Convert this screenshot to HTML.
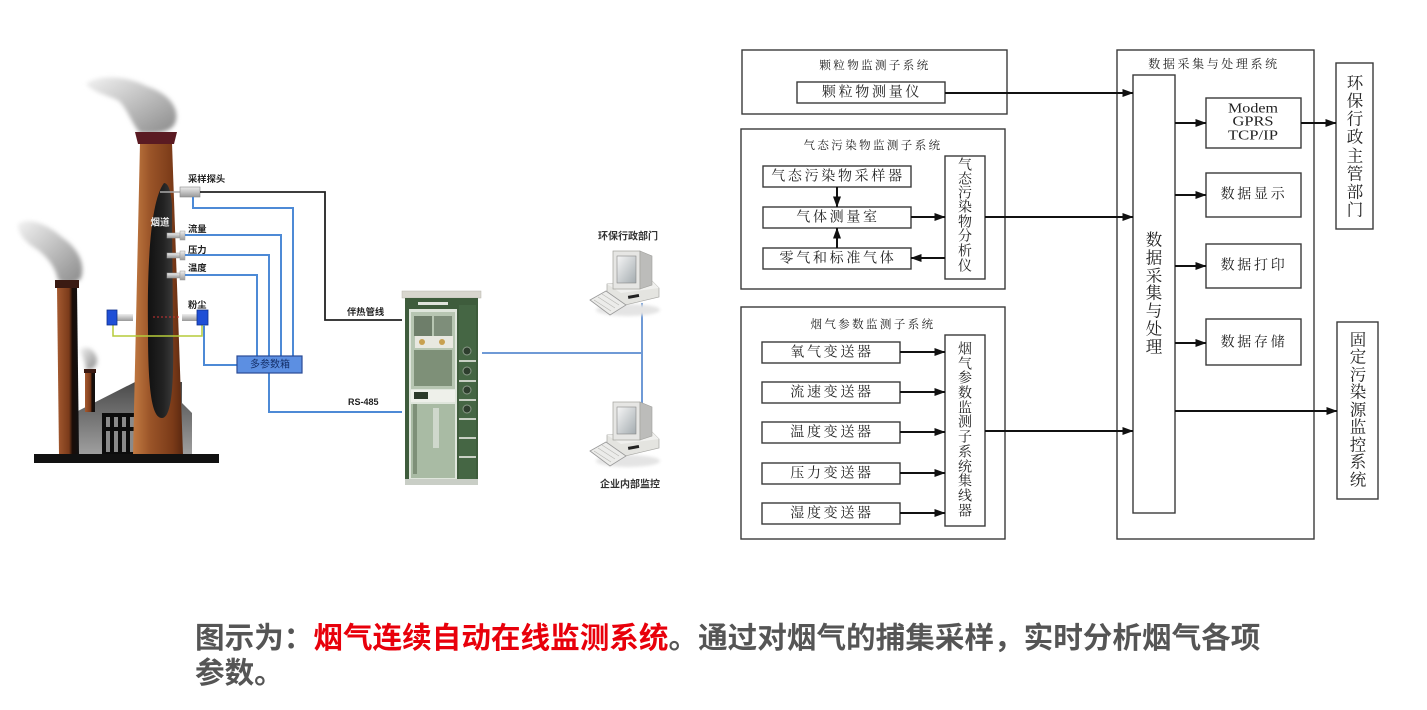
<!DOCTYPE html>
<html><head><meta charset="utf-8">
<style>
html,body{margin:0;padding:0;background:#fff;}
body{width:1427px;height:710px;overflow:hidden;position:relative;}
svg{position:absolute;left:0;top:0;}
.d{font-family:"Liberation Serif","Noto Serif CJK SC",serif;fill:#222;}
.s{font-family:"Liberation Sans","Noto Sans CJK SC",sans-serif;}
</style></head>
<body>
<svg width="1427" height="710" viewBox="0 0 1427 710" xmlns="http://www.w3.org/2000/svg">
<defs>
<marker id="ah" markerWidth="11" markerHeight="8" refX="10.5" refY="4" orient="auto" markerUnits="userSpaceOnUse">
<path d="M0,0 L11,4 L0,8 z" fill="#111"/>
</marker>
<filter id="bl" x="-50%" y="-50%" width="200%" height="200%"><feGaussianBlur stdDeviation="2.2"/></filter>
<filter id="bl2" x="-50%" y="-50%" width="200%" height="200%"><feGaussianBlur stdDeviation="1.5"/></filter>
<linearGradient id="sm" x1="0" x2="1" y1="0" y2="1">
<stop offset="0" stop-color="#f2f2f2"/><stop offset="0.45" stop-color="#c4c4c4"/><stop offset="1" stop-color="#8a8a8a"/>
</linearGradient>
<linearGradient id="ch" x1="0" x2="1" y1="0" y2="0">
<stop offset="0" stop-color="#c27a42"/><stop offset="0.35" stop-color="#9a5428"/><stop offset="0.8" stop-color="#7a3a18"/><stop offset="1" stop-color="#5a2810"/>
</linearGradient>
<linearGradient id="ch2" x1="0" x2="1" y1="0" y2="0">
<stop offset="0" stop-color="#a55a30"/><stop offset="0.55" stop-color="#7a3a1a"/><stop offset="0.7" stop-color="#1a0d08"/><stop offset="1" stop-color="#111"/>
</linearGradient>
<linearGradient id="fl" x1="0" x2="1" y1="0" y2="0">
<stop offset="0" stop-color="#111"/><stop offset="0.6" stop-color="#222"/><stop offset="1" stop-color="#3a3a3a"/>
</linearGradient>
<linearGradient id="bd" x1="0" x2="0" y1="0" y2="1">
<stop offset="0" stop-color="#4a4a4a"/><stop offset="1" stop-color="#a0a0a0"/>
</linearGradient>
<linearGradient id="pr" x1="0" x2="0" y1="0" y2="1">
<stop offset="0" stop-color="#eee"/><stop offset="1" stop-color="#999"/>
</linearGradient>
<linearGradient id="scr" x1="0" x2="1" y1="0" y2="1">
<stop offset="0" stop-color="#f6f6f6"/><stop offset="1" stop-color="#a4acb0"/>
</linearGradient>
</defs>

<!-- ================= LEFT ILLUSTRATION ================= -->
<!-- smoke -->
<g filter="url(#bl)">
<path d="M86,84 C98,74 128,76 146,86 C166,92 179,106 176,120 C174,131 160,135 140,133 C132,124 128,110 119,101 C108,95 94,93 86,84 Z" fill="url(#sm)"/>
<path d="M18,224 C30,216 50,226 63,238 C76,247 86,262 81,278 C76,285 63,285 58,280 C56,268 48,258 38,250 C28,244 18,236 18,224 Z" fill="url(#sm)"/>
<path d="M80,350 C86,344 96,350 97,360 C97,368 90,371 86,370 C86,362 82,356 80,350 Z" fill="url(#sm)"/>
</g>

<!-- building -->
<polygon points="74,455 74,413 135,382 182,382 182,403 192,413 192,455" fill="url(#bd)"/>
<rect x="102" y="413" width="40" height="42" fill="#0c0c0c"/>
<g fill="#8a8a8a">
<rect x="106" y="417" width="4" height="10"/><rect x="114" y="417" width="4" height="10"/><rect x="122" y="417" width="4" height="10"/><rect x="130" y="417" width="4" height="10"/>
<rect x="106" y="431" width="4" height="21"/><rect x="114" y="431" width="4" height="21"/><rect x="122" y="431" width="4" height="21"/><rect x="130" y="431" width="4" height="21"/>
</g>

<!-- small chimneys -->
<polygon points="57,287 77,287 79,455 59,455" fill="url(#ch2)"/>
<rect x="55" y="280" width="24" height="8" fill="#3a1a12"/>
<rect x="85" y="372" width="10" height="40" fill="url(#ch2)"/>
<rect x="84" y="369" width="12" height="4" fill="#3a1a12"/>

<!-- big chimney -->
<polygon points="140,143 172,143 183,455 133,455" fill="url(#ch)"/>
<polygon points="135,132 177,132 174,144 138,144" fill="#5a1a22"/>
<path d="M164,183 C151,200 147,260 148,330 C148,392 152,418 162,418 C172,418 174,382 173,330 L172,205 C171,190 168,183 164,183 Z" fill="url(#fl)"/>
<text x="160" y="223" class="s" font-size="9.5" font-weight="bold" fill="#eee" text-anchor="middle" dominant-baseline="central">烟道</text>

<!-- base -->
<rect x="34" y="454" width="185" height="9" fill="#111"/>

<!-- probes -->
<line x1="160" y1="192" x2="182" y2="192" stroke="#aaa" stroke-width="1.5"/>
<rect x="180" y="187" width="20" height="10" fill="url(#pr)" stroke="#888" stroke-width="0.6"/>
<g fill="url(#pr)" stroke="#999" stroke-width="0.5">
<rect x="167" y="233" width="13" height="5"/><rect x="180" y="231" width="5" height="9"/>
<rect x="167" y="253" width="13" height="5"/><rect x="180" y="251" width="5" height="9"/>
<rect x="167" y="273" width="13" height="5"/><rect x="180" y="271" width="5" height="9"/>
</g>

<!-- dust sensor -->
<line x1="153" y1="317" x2="181" y2="317" stroke="#c33" stroke-width="1" stroke-dasharray="2,2"/>
<g fill="url(#pr)"><rect x="117" y="314" width="16" height="7"/><rect x="182" y="314" width="15" height="7"/></g>
<polyline points="113,325 113,336 202,336 202,325" fill="none" stroke="#b5cc3a" stroke-width="1.5"/>
<rect x="107" y="310" width="10" height="15" fill="#1f4fd6" stroke="#0d2f8a" stroke-width="0.8"/>
<rect x="197" y="310" width="11" height="15" fill="#1f4fd6" stroke="#0d2f8a" stroke-width="0.8"/>

<!-- cables -->
<polyline points="200,192 325,192 325,320 402,320" fill="none" stroke="#222" stroke-width="1.8"/>
<g fill="none" stroke="#4d8ad6" stroke-width="2">
<polyline points="193,197 193,208 293,208 293,357"/>
<polyline points="185,235 281,235 281,357"/>
<polyline points="185,255 269,255 269,357"/>
<polyline points="185,275 257,275 257,357"/>
<polyline points="204,325 204,365 237,365"/>
<polyline points="269,373 269,412 402,412"/>
</g>
<rect x="237" y="356" width="65" height="17" fill="#5c8fe2" stroke="#2a4a95" stroke-width="1.2"/>
<text x="270" y="365" class="s" font-size="10" fill="#15306a" text-anchor="middle" dominant-baseline="central">多参数箱</text>

<g class="s" font-size="9.3" font-weight="bold" fill="#222" dominant-baseline="central">
<text x="188" y="179">采样探头</text>
<text x="188" y="229">流量</text>
<text x="188" y="250">压力</text>
<text x="188" y="268">温度</text>
<text x="188" y="305">粉尘</text>
<text x="347" y="312">伴热管线</text>
<text x="348" y="402" font-size="9">RS-485</text>
</g>

<!-- cabinet -->
<rect x="402" y="291" width="79" height="7" fill="#d8d6ce" stroke="#b8b6ae" stroke-width="0.5"/>
<rect x="405" y="298" width="73" height="186" fill="#3e5c3c"/>
<rect x="418" y="302" width="30" height="3" fill="#dfe4dc"/>
<rect x="409" y="309" width="48" height="172" fill="#dfe6dc"/>
<rect x="411" y="312" width="44" height="77" fill="#b7c6b2"/>
<rect x="414" y="316" width="18" height="20" fill="#6e7e6a"/>
<rect x="434" y="316" width="18" height="20" fill="#7e8e7a"/>
<rect x="415" y="336" width="38" height="12" fill="#e8e8e0"/>
<circle cx="422" cy="342" r="3" fill="#c8a050"/><circle cx="442" cy="342" r="3" fill="#c8a050"/>
<rect x="414" y="350" width="38" height="36" fill="#7e9078"/>
<rect x="411" y="390" width="44" height="12" fill="#eef0ea"/>
<rect x="414" y="392" width="14" height="7" fill="#2b3a2a"/>
<rect x="411" y="404" width="44" height="74" fill="#a9bba4"/>
<rect x="413" y="404" width="4" height="70" fill="#7e9078"/>
<rect x="433" y="408" width="6" height="40" fill="#cfd8cc"/>
<rect x="459" y="305" width="17" height="176" fill="#456644"/>
<g fill="#c8d0c4"><rect x="459" y="360" width="17" height="2"/><rect x="459" y="380" width="17" height="2"/><rect x="459" y="399" width="17" height="2"/><rect x="459" y="418" width="17" height="2"/><rect x="459" y="437" width="17" height="2"/><rect x="459" y="456" width="17" height="2"/></g>
<g fill="#2e3e2e" stroke="#8a9a88" stroke-width="1"><circle cx="467" cy="351" r="4"/><circle cx="467" cy="371" r="4"/><circle cx="467" cy="390" r="4"/><circle cx="467" cy="409" r="4"/></g>
<rect x="405" y="479" width="73" height="6" fill="#c9cec6"/>

<!-- network -->
<g stroke="#6f9ad6" stroke-width="2" fill="none">
<line x1="482" y1="353" x2="642" y2="353"/>
<line x1="642" y1="303" x2="642" y2="408"/>
</g>

<!-- computers -->
<g id="pc">
<ellipse cx="628" cy="310" rx="32" ry="6" fill="#e4e4e4" filter="url(#bl2)"/>
<polygon points="607,284 650,279 659,288 659,297 621,306 607,296" fill="#e4e4e0" stroke="#a8a8a4" stroke-width="0.7"/>
<polygon points="607,284 650,279 659,288 621,293" fill="#f0f0ee"/>
<rect x="628" y="295" width="11" height="3" fill="#222" transform="rotate(-10 633 296)"/>
<rect x="613" y="251" width="27" height="38" fill="#e6e6e4" stroke="#a0a09c" stroke-width="0.7"/>
<polygon points="640,251 652,256 652,285 640,289" fill="#bcbcba" stroke="#a0a09c" stroke-width="0.6"/>
<rect x="617" y="256" width="19" height="27" fill="url(#scr)" stroke="#888" stroke-width="0.6"/>
<polygon points="590,300 606,291 626,305 610,315" fill="#ececea" stroke="#999" stroke-width="0.8"/>
<g stroke="#b8b8b4" stroke-width="0.6"><line x1="594" y1="300" x2="611" y2="311"/><line x1="598" y1="297" x2="615" y2="308"/><line x1="602" y1="294" x2="619" y2="305"/></g>
</g>
<use href="#pc" transform="translate(0,151)"/>
<g class="s" font-size="10" font-weight="bold" fill="#333" text-anchor="middle" dominant-baseline="central">
<text x="628" y="237">环保行政部门</text>
<text x="630" y="485">企业内部监控</text>
</g>

<!-- ================= RIGHT DIAGRAM ================= -->
<g fill="none" stroke="#3a3a3a" stroke-width="1.4">
<rect x="742" y="50" width="265" height="64"/>
<rect x="797" y="82" width="148" height="21"/>
<rect x="741" y="129" width="264" height="160"/>
<rect x="763" y="166" width="148" height="21"/>
<rect x="763" y="207" width="148" height="21"/>
<rect x="763" y="248" width="148" height="21"/>
<rect x="945" y="156" width="40" height="123"/>
<rect x="741" y="307" width="264" height="232"/>
<rect x="762" y="342" width="138" height="21"/>
<rect x="762" y="382" width="138" height="21"/>
<rect x="762" y="422" width="138" height="21"/>
<rect x="762" y="463" width="138" height="21"/>
<rect x="762" y="503" width="138" height="21"/>
<rect x="945" y="335" width="40" height="191"/>
<rect x="1117" y="50" width="197" height="489"/>
<rect x="1133" y="75" width="42" height="438"/>
<rect x="1206" y="98" width="95" height="50"/>
<rect x="1206" y="173" width="95" height="44"/>
<rect x="1206" y="244" width="95" height="44"/>
<rect x="1206" y="319" width="95" height="46"/>
<rect x="1336" y="63" width="37" height="166"/>
<rect x="1337" y="322" width="41" height="177"/>
</g>

<g stroke="#111" stroke-width="2" fill="none" marker-end="url(#ah)">
<line x1="945" y1="93" x2="1133" y2="93"/>
<line x1="985" y1="217" x2="1133" y2="217"/>
<line x1="985" y1="431" x2="1133" y2="431"/>
<line x1="837" y1="187" x2="837" y2="207"/>
<line x1="837" y1="248" x2="837" y2="228"/>
<line x1="911" y1="217" x2="945" y2="217"/>
<line x1="945" y1="258" x2="911" y2="258"/>
<line x1="900" y1="352" x2="945" y2="352"/>
<line x1="900" y1="392" x2="945" y2="392"/>
<line x1="900" y1="432" x2="945" y2="432"/>
<line x1="900" y1="473" x2="945" y2="473"/>
<line x1="900" y1="513" x2="945" y2="513"/>
<line x1="1175" y1="123" x2="1206" y2="123"/>
<line x1="1175" y1="195" x2="1206" y2="195"/>
<line x1="1175" y1="266" x2="1206" y2="266"/>
<line x1="1175" y1="343" x2="1206" y2="343"/>
<line x1="1301" y1="123" x2="1336" y2="123"/>
<line x1="1175" y1="411" x2="1337" y2="411"/>
</g>

<g class="d" text-anchor="middle" dominant-baseline="central">
<text x="875" y="66" font-size="11.5" letter-spacing="2.4">颗粒物监测子系统</text>
<text x="873" y="146" font-size="11.5" letter-spacing="2.4">气态污染物监测子系统</text>
<text x="873" y="325" font-size="11.5" letter-spacing="2.4">烟气参数监测子系统</text>
<text x="1214" y="64" font-size="12" letter-spacing="2.6">数据采集与处理系统</text>
</g>
<g class="d" font-size="14" letter-spacing="2.7" text-anchor="middle" dominant-baseline="central">
<text x="872" y="93">颗粒物测量仪</text>
<text x="838" y="177">气态污染物采样器</text>
<text x="838" y="218">气体测量室</text>
<text x="838" y="259">零气和标准气体</text>
<text x="832" y="353">氧气变送器</text>
<text x="832" y="393">流速变送器</text>
<text x="832" y="433">温度变送器</text>
<text x="832" y="474">压力变送器</text>
<text x="832" y="514">湿度变送器</text>
<text x="1254" y="195">数据显示</text>
<text x="1254" y="266">数据打印</text>
<text x="1254" y="343">数据存储</text>
</g>
<g font-family="'Liberation Serif',serif" font-size="14" fill="#222" text-anchor="middle" dominant-baseline="central">
<text x="1253" y="109" textLength="50" lengthAdjust="spacingAndGlyphs">Modem</text>
<text x="1253" y="122" textLength="41" lengthAdjust="spacingAndGlyphs">GPRS</text>
<text x="1253" y="136" textLength="50" lengthAdjust="spacingAndGlyphs">TCP/IP</text>
</g>

<!-- vertical texts -->
<g class="d" font-size="14" text-anchor="middle" dominant-baseline="central">
<text x="965" y="166">气</text><text x="965" y="180">态</text><text x="965" y="194">污</text><text x="965" y="208">染</text><text x="965" y="223">物</text><text x="965" y="237">分</text><text x="965" y="252">析</text><text x="965" y="267">仪</text>
<text x="965" y="350">烟</text><text x="965" y="365">气</text><text x="965" y="379">参</text><text x="965" y="394">数</text><text x="965" y="409">监</text><text x="965" y="423">测</text><text x="965" y="438">子</text><text x="965" y="453">系</text><text x="965" y="468">统</text><text x="965" y="482">集</text><text x="965" y="497">线</text><text x="965" y="512">器</text>
</g>
<g class="d" font-size="16.5" text-anchor="middle" dominant-baseline="central">
<text x="1154" y="240">数</text><text x="1154" y="258">据</text><text x="1154" y="276">采</text><text x="1154" y="293">集</text><text x="1154" y="311">与</text><text x="1154" y="329">处</text><text x="1154" y="347">理</text>
<text x="1355" y="83">环</text><text x="1355" y="101">保</text><text x="1355" y="119">行</text><text x="1355" y="137">政</text><text x="1355" y="156">主</text><text x="1355" y="174">管</text><text x="1355" y="192">部</text><text x="1355" y="210">门</text>
<text x="1358" y="340">固</text><text x="1358" y="357">定</text><text x="1358" y="375">污</text><text x="1358" y="392">染</text><text x="1358" y="410">源</text><text x="1358" y="427">监</text><text x="1358" y="445">控</text><text x="1358" y="462">系</text><text x="1358" y="480">统</text>
</g>

<!-- caption -->
<g font-family="'Liberation Sans','Noto Sans CJK SC',sans-serif" font-size="29.6" font-weight="bold" fill="#555">
<text x="195" y="648">图示为：<tspan fill="#e8000b">烟气连续自动在线监测系统</tspan>。通过对烟气的捕集采样，实时分析烟气各项</text>
<text x="195" y="683">参数。</text>
</g>
</svg>
</body></html>
